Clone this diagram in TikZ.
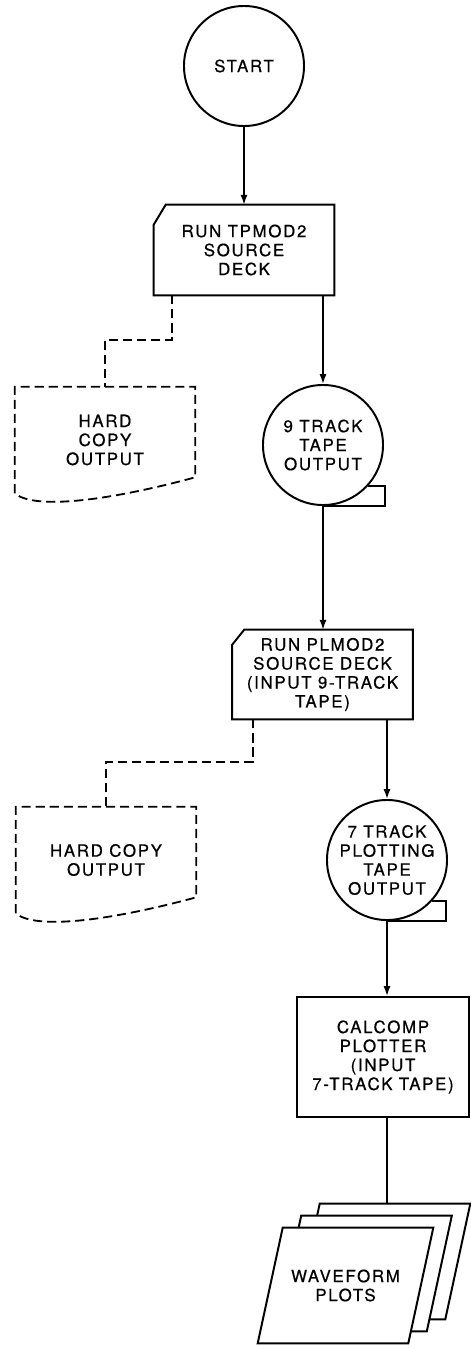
\documentclass[tikz,border=0pt]{standalone}
\usepackage{fontspec}
\setmainfont{TeX Gyre Heros}[LetterSpace=10, FakeBold=0.6]
\usetikzlibrary{arrows.meta,backgrounds}

\begin{document}
\begin{tikzpicture}[
        x=0.025cm, y=-0.025cm,
        every node/.style={align=center, inner sep=0pt, font=\fontsize{12}{13.5}\selectfont},
        shapeline/.style={line width=1.4pt},
        hardline/.style={line width=1.3pt, dash pattern=on 6.5pt off 3.5pt},
        flowline/.style={line width=1.1pt},
        flowarrow/.style={flowline, -{Latex[length=7pt,width=5pt]}},
        terminal/.style={circle, draw, shapeline, minimum size=3cm},
        tapereel/.style={circle, draw, shapeline, minimum size=3cm},
        card/.style={rectangle, minimum width=4.5cm, minimum height=2.25cm},
        hardcopy/.style={rectangle, minimum width=4.5cm, minimum height=2.65cm},
        sheet/.style={rectangle, minimum width=3.75cm, minimum height=2.875cm}
    ]

    \useasboundingbox (0,0) rectangle (471,1348);

    \node[terminal] (start) at (244,66) {START};
    \node[card] (tpmod) at (244,250) {RUN TPMOD2\\SOURCE\\DECK};
    \node[hardcopy] (hard1) at (105,440) {HARD\\COPY\\OUTPUT};
    \node[tapereel] (tape9) at (323,445) {9 TRACK\\TAPE\\OUTPUT};
    \node[card, minimum height=2.225cm] (plmod) at (322.5,674.5) {RUN PLMOD2\\SOURCE DECK\\(INPUT 9-TRACK\\TAPE)};
    \node[hardcopy] (hard2) at (106,860) {HARD COPY\\OUTPUT};
    \node[tapereel] (tape7) at (387,860) {7 TRACK\\PLOTTING\\TAPE\\OUTPUT};
    \node[rectangle, draw, shapeline, minimum width=4.3cm, minimum height=3cm] (calcomp) at (383,1057) {CALCOMP\\PLOTTER\\(INPUT\\7-TRACK TAPE)};
    \node[sheet] (sheet3) at (382.5,1261.5) {};
    \node[sheet] (sheet2) at (364,1273.5) {};
    \node[sheet] (plots) at (345.5,1285.5) {WAVEFORM\\PLOTS};

    \draw[shapeline] ([yshift=-0.5cm]tpmod.north west) -- ([xshift=0.3cm]tpmod.north west) -- (tpmod.north east) -- (tpmod.south east) -- (tpmod.south west) -- cycle;
    \draw[shapeline] ([yshift=-0.375cm]plmod.north west) -- ([xshift=0.3cm]plmod.north west) -- (plmod.north east) -- (plmod.south east) -- (plmod.south west) -- cycle;

    \foreach \h in {hard1,hard2}
        \draw[hardline] (\h.south west) -- (\h.north west) -- (\h.north east) -- ([shift={(0,-16)}]\h.south east)
            .. controls +(-85,23) and ([shift={(20,17)}]\h.south west) .. (\h.south west);

    \draw[shapeline] (tape9.-42) -- ++(17,0) |- (tape9.south);
    \draw[shapeline] (tape7.-42) -- ++(14,0) |- (tape7.south);

    \begin{scope}[on background layer]
        \foreach \s in {sheet3,sheet2,plots}
            \draw[shapeline, fill=white] ([xshift=0.3125cm]\s.north west) -- ([xshift=0.3125cm]\s.north east)
                -- ([xshift=-0.3125cm]\s.south east) -- ([xshift=-0.3125cm]\s.south west) -- cycle;
    \end{scope}

    \draw[flowarrow] (start.south) -- (tpmod.north);
    \draw[flowarrow] (tpmod.south -| tape9.north) -- (tape9.north);
    \coordinate (bend1) at (172,340);
    \draw[hardline] (tpmod.south -| bend1) -- (bend1) -| (hard1.north);
    \draw[flowarrow] (tape9.south) -- (tape9.south |- plmod.north);
    \draw[flowarrow] (plmod.south -| tape7.north) -- (tape7.north);
    \coordinate (bend2) at (253,762);
    \draw[hardline] (plmod.south -| bend2) -- (bend2) -| (hard2.north);
    \draw[flowarrow] (tape7.south) -- (tape7.south |- calcomp.north);
    \draw[flowline] (calcomp.south -| tape7.south) -- (tape7.south |- sheet3.north);

\end{tikzpicture}
\end{document}
